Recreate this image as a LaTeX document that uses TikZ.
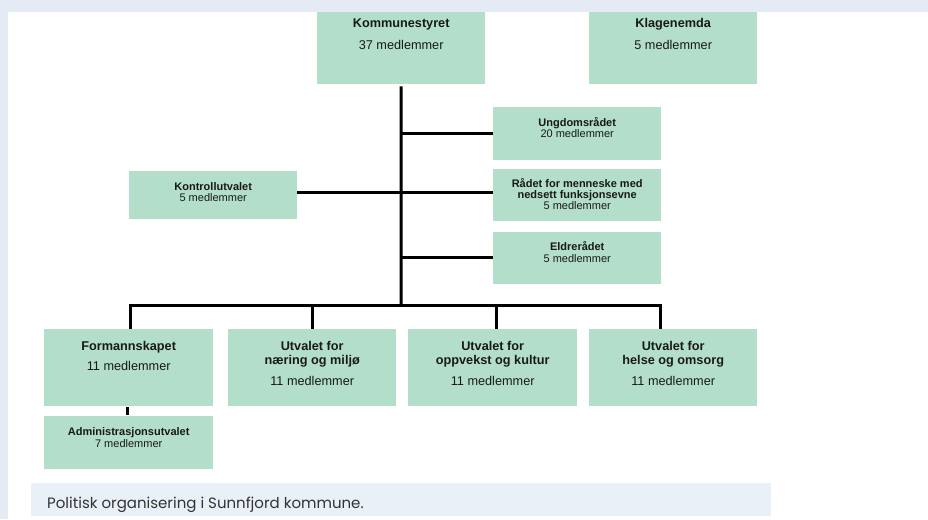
\documentclass[tikz,border=0pt]{standalone}
\usepackage{fontspec}
\setmainfont{Liberation Sans}
\newfontfamily\capfont{Poppins}
\definecolor{framebg}{HTML}{E4EBF4}
\definecolor{capbg}{HTML}{E9F0F7}
\definecolor{boxfill}{HTML}{B3DFCA}
\definecolor{captext}{HTML}{333333}
\begin{document}
\begin{tikzpicture}[x=1pt,y=-1pt,
  box/.style={fill=boxfill, draw=none, inner sep=0pt, anchor=north west},
  bigt/.style={anchor=base, inner sep=0pt, font=\fontsize{12.7}{15}\selectfont, text=black!90},
  smallt/.style={anchor=base, inner sep=0pt, font=\fontsize{11}{13}\selectfont, text=black!90},
  conn/.style={line width=3pt, black}]
\useasboundingbox (0,0) rectangle (928,519);
\fill[framebg] (0,0) rectangle (928,519);
\fill[white] (8,12) rectangle (928,519);
\fill[capbg] (31,483) rectangle (771,516);
\node[anchor=base west, inner sep=0pt, text=captext, font=\capfont\fontsize{15}{18}\selectfont] (cap) at (47,508) {Politisk organisering i Sunnfjord kommune.};

% boxes
\node[box, minimum width=168pt, minimum height=72pt] (ks) at (317,12) {};
\node[box, minimum width=168pt, minimum height=72pt] (kl) at (589,12) {};
\node[box, minimum width=168pt, minimum height=53pt] (ung) at (493,107) {};
\node[box, minimum width=168pt, minimum height=52pt] (rad) at (493,169) {};
\node[box, minimum width=168pt, minimum height=52pt] (eld) at (493,232) {};
\node[box, minimum width=168pt, minimum height=48pt] (kon) at (129,171) {};
\node[box, minimum width=169pt, minimum height=77pt] (form) at (44,329) {};
\node[box, minimum width=168pt, minimum height=77pt] (nae) at (228,329) {};
\node[box, minimum width=169pt, minimum height=77pt] (opp) at (408,329) {};
\node[box, minimum width=168pt, minimum height=77pt] (hel) at (589,329) {};
\node[box, minimum width=169pt, minimum height=53pt] (adm) at (44,416) {};

% texts
\node[bigt] (ks1) at (ks.center |- 0,28) {\textbf{Kommunestyret}};
\node[bigt] (ks2) at (ks.center |- 0,49) {37 medlemmer};
\node[bigt] (kl1) at (kl.center |- 0,28) {\textbf{Klagenemda}};
\node[bigt] (kl2) at (kl.center |- 0,49) {5 medlemmer};
\node[smallt] (ung1) at (ung.center |- 0,126) {\textbf{Ungdomsrådet}};
\node[smallt] (ung2) at (ung.center |- 0,137.5) {20 medlemmer};
\node[smallt] (rad1) at (rad.center |- 0,187.5) {\textbf{Rådet for menneske med}};
\node[smallt] (rad2) at (rad.center |- 0,198.5) {\textbf{nedsett funksjonsevne}};
\node[smallt] (rad3) at (rad.center |- 0,209.5) {5 medlemmer};
\node[smallt] (eld1) at (eld.center |- 0,250.5) {\textbf{Eldrerådet}};
\node[smallt] (eld2) at (eld.center |- 0,262) {5 medlemmer};
\node[smallt] (kon1) at (kon.center |- 0,190) {\textbf{Kontrollutvalet}};
\node[smallt] (kon2) at (kon.center |- 0,201) {5 medlemmer};
\node[bigt] (form1) at (form.center |- 0,350) {\textbf{Formannskapet}};
\node[bigt] (form2) at (form.center |- 0,370) {11 medlemmer};
\node[bigt] (nae1) at (nae.center |- 0,350) {\textbf{Utvalet for}};
\node[bigt] (nae2) at (nae.center |- 0,364.5) {\textbf{næring og miljø}};
\node[bigt] (nae3) at (nae.center |- 0,385) {11 medlemmer};
\node[bigt] (opp1) at (opp.center |- 0,350) {\textbf{Utvalet for}};
\node[bigt] (opp2) at (opp.center |- 0,364.5) {\textbf{oppvekst og kultur}};
\node[bigt] (opp3) at (opp.center |- 0,385) {11 medlemmer};
\node[bigt] (hel1) at (hel.center |- 0,350) {\textbf{Utvalet for}};
\node[bigt] (hel2) at (hel.center |- 0,364.5) {\textbf{helse og omsorg}};
\node[bigt] (hel3) at (hel.center |- 0,385) {11 medlemmer};
\node[smallt] (adm1) at (adm.center |- 0,435.5) {\textbf{Administrasjonsutvalet}};
\node[smallt] (adm2) at (adm.center |- 0,447.5) {7 medlemmer};

% connectors
\coordinate (busc) at (401,305);
\coordinate (busl) at (130,305);
\coordinate (busr) at (660,305);
\draw[conn] ([yshift=-2pt]ks.south) -- (busc);
\draw[conn] (ung.west -| busc) -- (ung.west);
\draw[conn] ([yshift=3pt]rad.west -| busc) -- ([yshift=3pt]rad.west);
\draw[conn] ([yshift=1pt]eld.west -| busc) -- ([yshift=1pt]eld.west);
\draw[conn] ([yshift=3pt]kon.east) -- ([yshift=3pt]kon.east -| busc);
\draw[conn, line cap=rect] (busl) -- (busr);
\draw[conn] (busl) -- (busl |- form.north);
\draw[conn] (312,305) -- (312,329);
\draw[conn] (496,305) -- (496,329);
\draw[conn] (busr) -- (busr |- hel.north);
\draw[conn] ([xshift=-1.5pt,yshift=-1pt]form.south) -- ([xshift=-1.5pt,yshift=1pt]adm.north);
\end{tikzpicture}
\end{document}
